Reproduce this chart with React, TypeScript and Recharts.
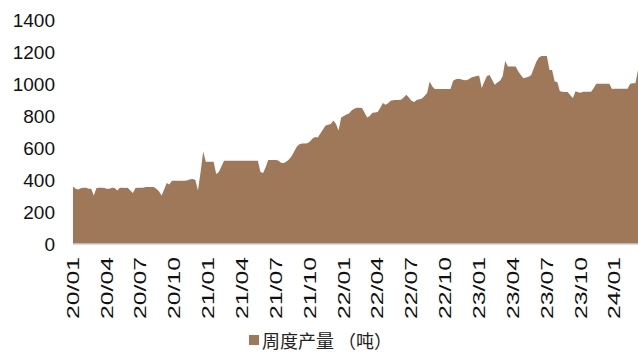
import React from 'react';
import { AreaChart, Area, XAxis, YAxis, Legend } from 'recharts';

// Quarter labels shown on the category axis, one every 13 weeks
const quarterLabels = [
  '20/01', '20/04', '20/07', '20/10',
  '21/01', '21/04', '21/07', '21/10',
  '22/01', '22/04', '22/07', '22/10',
  '23/01', '23/04', '23/07', '23/10',
  '24/01',
];
const weeksPerLabel = 13;

// Weekly output in tonnes, from the first week of 2020 onward
const weeklyOutput = [
  360, 345, 340, 348, 352, 352, 345, 345, 303, 350,
  352, 352, 350, 345, 345, 352, 350, 335, 352, 352,
  350, 352, 335, 318, 350, 352, 352, 352, 357, 357,
  357, 357, 345, 330, 303, 340, 382, 372, 396, 396,
  395, 396, 396, 396, 398, 405, 407, 400, 334, 450,
  578, 514, 514, 514, 514, 438, 450, 485, 520, 520,
  520, 520, 520, 520, 520, 520, 520, 520, 520, 520,
  520, 520, 450, 444, 480, 525, 525, 525, 525, 520,
  506, 506, 515, 530, 550, 580, 610, 624, 628, 628,
  630, 640, 660, 669, 665, 690, 715, 740, 745, 750,
  772, 750, 710, 790, 800, 810, 815, 835, 845, 851,
  851, 850, 820, 790, 800, 820, 822, 825, 850, 882,
  870, 880, 895, 898, 900, 900, 902, 915, 933, 915,
  895, 888, 900, 905, 910, 925, 944, 1016, 985, 969,
  969, 969, 969, 969, 969, 969, 1020, 1030, 1033, 1030,
  1025, 1023, 1030, 1041, 1045, 1050, 1051, 975, 1015, 1050,
  1057, 1025, 995, 1010, 1020, 1047, 1144, 1109, 1109, 1109,
  1109, 1080, 1057, 1036, 1040, 1045, 1057, 1100, 1140, 1167,
  1175, 1175, 1175, 1088, 1088, 1016, 1012, 954, 952, 950,
  950, 930, 913, 954, 948, 945, 952, 952, 952, 952,
  975, 1002, 1002, 1002, 1002, 1002, 1002, 969, 971, 971,
  971, 971, 971, 971, 1002, 1005, 1005, 1088,
];

const yTicks = [0, 200, 400, 600, 800, 1000, 1200, 1400];
const seriesName = '周度产量 （吨）';

const data = weeklyOutput.map((v, i) => ({ week: i, output: v }));
const xTicks = quarterLabels.map((_, k) => k * weeksPerLabel);

const AREA_COLOR = '#9F7859';
const FONT = '"Liberation Sans", Arial, sans-serif';

const QuarterTick = (props: any) => {
  const { x, y, payload } = props;
  const label = quarterLabels[Math.round(payload.value / weeksPerLabel)] ?? '';
  return (
    <text
      transform={`translate(${x + 5.8}, ${y + 5}) rotate(-90) scale(1.55, 1)`}
      textAnchor="end"
      fontSize={16}
      fontFamily={FONT}
      fill="#111"
    >
      {label}
    </text>
  );
};

const LegendContent = () => (
  <div
    style={{
      display: 'flex',
      alignItems: 'center',
      fontFamily: '"Noto Sans CJK SC", sans-serif',
      fontSize: 18,
      color: '#222',
      whiteSpace: 'pre',
    }}
  >
    <span
      style={{
        display: 'inline-block',
        width: 10,
        height: 10,
        background: AREA_COLOR,
        marginRight: 3,
      }}
    />
    <span>{seriesName}</span>
  </div>
);

export default function App() {
  return (
    <div style={{ position: 'absolute', left: 0, top: 0, width: 638, height: 353, background: '#fff' }}>
      <AreaChart
        width={638}
        height={353}
        data={data}
        margin={{ top: 20, right: 0, left: 0, bottom: 29 }}
      >
        <XAxis
          dataKey="week"
          type="number"
          domain={[0, weeklyOutput.length - 1]}
          ticks={xTicks}
          interval={0}
          tick={<QuarterTick />}
          tickLine={false}
          axisLine={{ stroke: '#d0d0d0', strokeWidth: 1.5 }}
          height={80}
        />
        <YAxis
          domain={[0, 1400]}
          ticks={yTicks}
          interval={0}
          width={73}
          tickSize={0}
          tickMargin={18}
          axisLine={false}
          tickLine={false}
          tick={{ fontSize: 19, fontFamily: FONT, fill: '#111' }}
        />
        <Legend
          layout="horizontal"
          verticalAlign="middle"
          align="center"
          content={<LegendContent />}
          wrapperStyle={{ position: 'absolute', left: 249, top: 327, width: 200, height: 24 }}
        />
        <Area
          type="linear"
          dataKey="output"
          name={seriesName}
          stroke="none"
          fill={AREA_COLOR}
          fillOpacity={1}
          isAnimationActive={false}
        />
      </AreaChart>
    </div>
  );
}
